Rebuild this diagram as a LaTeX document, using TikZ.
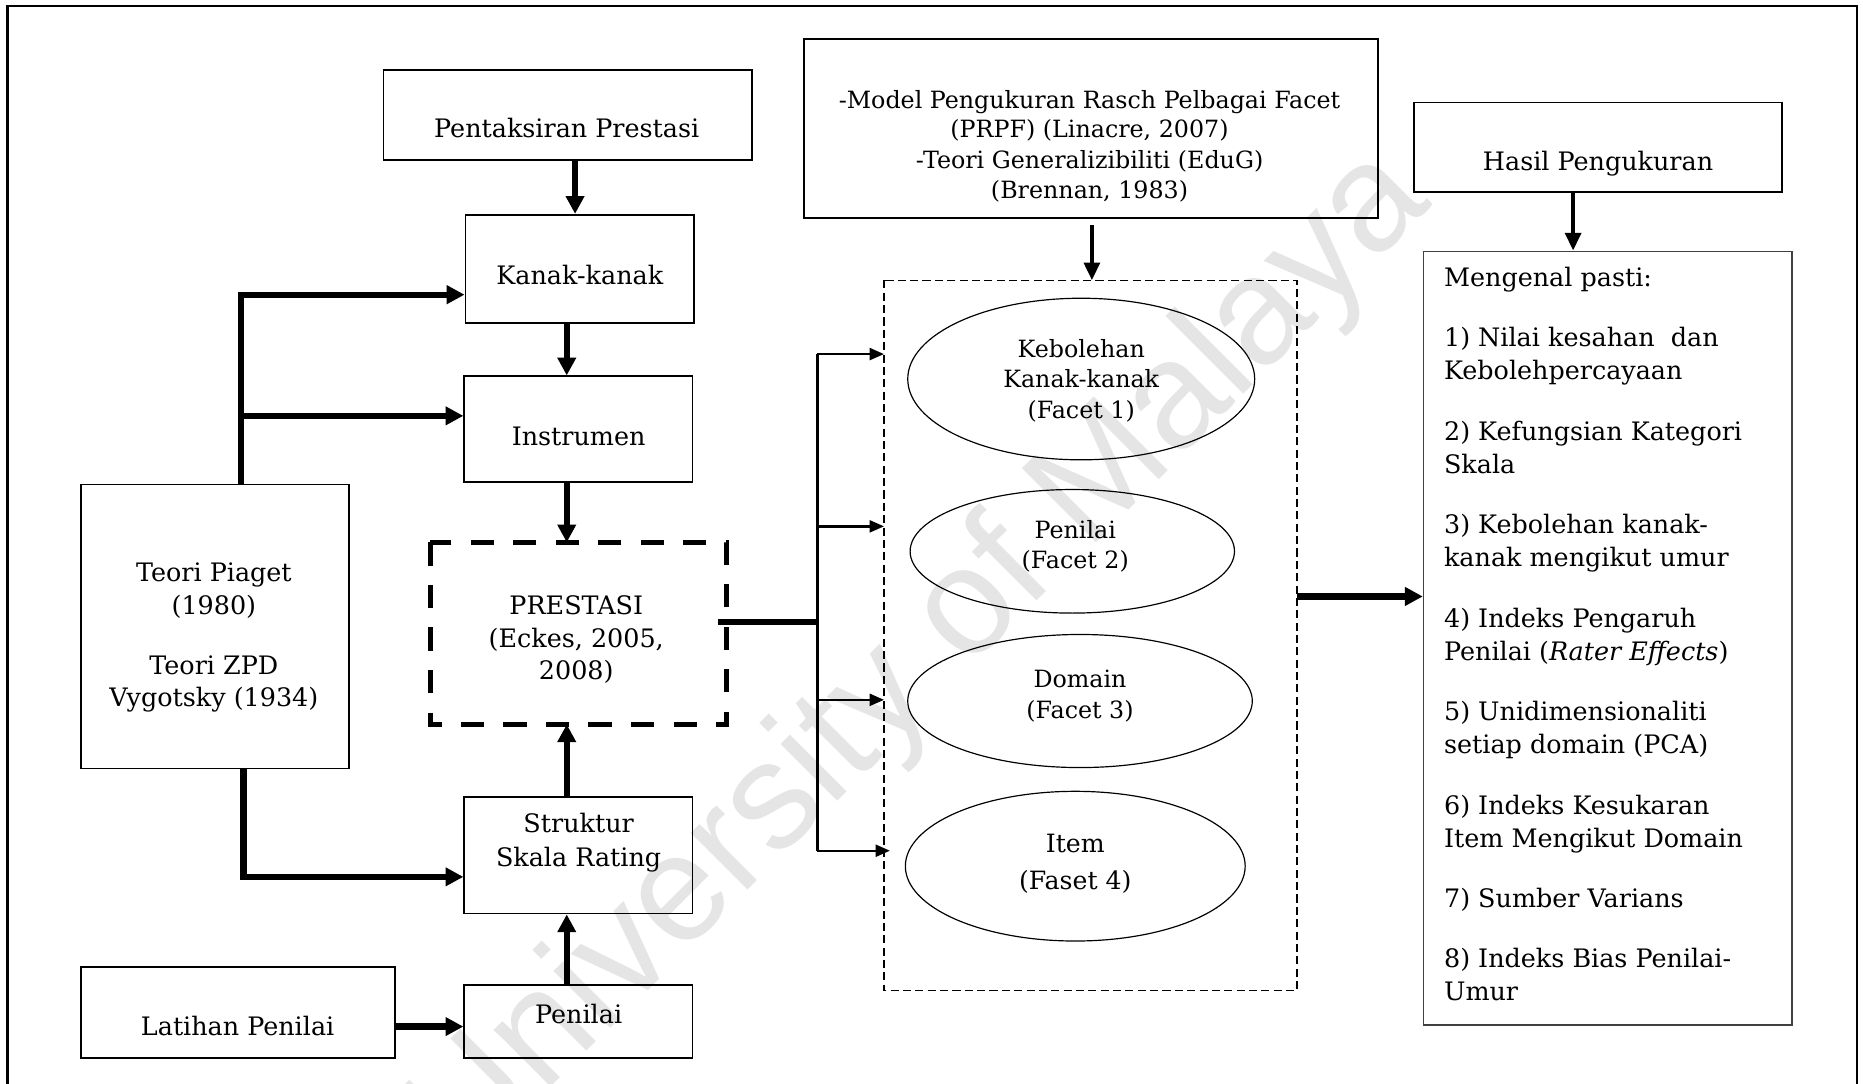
\documentclass[tikz,border=0pt]{standalone}
\usepackage{fontspec}
\setmainfont{DejaVu Serif}
\newfontfamily\wmfont{Liberation Sans}
\usetikzlibrary{arrows.meta,shapes.geometric,calc}
\newcommand\mainsz{\fontsize{10.7pt}{14pt}\selectfont}
\newcommand\smallsz{\fontsize{10pt}{12.5pt}\selectfont}
\newcommand\itemsz{\fontsize{10.6pt}{13pt}\selectfont}
\begin{document}
\begin{tikzpicture}[x=0.5pt,y=-0.5pt,
  boxst/.style={draw, line width=0.8pt, inner sep=0pt, anchor=north west},
  ellst/.style={draw, ellipse, line width=0.5pt, inner sep=0pt},
  tx/.style={inner sep=0pt, anchor=base, font=\mainsz},
  txs/.style={inner sep=0pt, anchor=base, font=\smallsz},
  txi/.style={inner sep=0pt, anchor=base, font=\itemsz},
  txl/.style={inner sep=0pt, anchor=base west, font=\mainsz},
  bigarr/.style={line width=2.6pt, -{Triangle[length=7.5pt,width=7.5pt]}},
  medarr/.style={line width=2pt, -{Triangle[length=7.5pt,width=6.5pt]}},
  smallarr/.style={line width=1pt, -{Triangle[length=6pt,width=5pt]}},
  bigline/.style={line width=2.2pt},
  midline/.style={line width=1.4pt}]
\useasboundingbox (0,0) rectangle (1568,912);
% watermark
\node[rotate=45, text=black!10, font=\wmfont\fontsize{64pt}{68pt}\selectfont, inner sep=0pt] (wm) at (776,556) {University of Malaya};
% frame
\draw[line width=1pt] (6.4,912) -- (6.4,5) -- (1563,5) -- (1563,912);
% boxes
\node[boxst, minimum width=155pt, minimum height=38pt] (pent) at (322,58) {};
\node[boxst, minimum width=96pt, minimum height=45.5pt] (kanak) at (391,180) {};
\node[boxst, minimum width=96pt, minimum height=44.5pt] (instr) at (390,316) {};
\node[boxst, draw=none, minimum width=124pt, minimum height=75.75pt] (prest) at (362,456.5) {};
\draw[line width=2.1pt, dash pattern=on 9.8pt off 8.1pt] (prest.north west) rectangle (prest.south east);
\node[boxst, minimum width=113pt, minimum height=119.5pt] (teori) at (67,407) {};
\node[boxst, minimum width=96pt, minimum height=49pt] (strukt) at (390,670) {};
\node[boxst, minimum width=96pt, minimum height=31pt] (penil) at (390,828) {};
\node[boxst, minimum width=132.5pt, minimum height=38.5pt] (latih) at (67,813) {};
\node[boxst, minimum width=241.5pt, minimum height=75.5pt] (prpf) at (676,32) {};
\node[boxst, draw=none, minimum width=173pt, minimum height=298pt] (facet) at (744,236) {};
\draw[line width=0.6pt, dash pattern=on 3.4pt off 1.8pt] (facet.north west) rectangle (facet.south east);
\node[boxst, minimum width=155pt, minimum height=37.75pt] (hasil) at (1189,85.5) {};
\node[boxst, line width=0.6pt, draw=black!75, minimum width=155pt, minimum height=325.5pt] (meng) at (1197.5,211) {};
% ellipses
\node[ellst, minimum width=146pt, minimum height=68pt] (e1) at (910,319) {};
\node[ellst, minimum width=136.5pt, minimum height=52pt] (e2) at (902.5,464) {};
\node[ellst, minimum width=145pt, minimum height=56pt] (e3) at (909,590) {};
\node[ellst, minimum width=143pt, minimum height=63pt] (e4) at (905,729) {};
% texts
\node[tx] (tpent) at (477,116) {Pentaksiran Prestasi};
\node[tx] (tkanak) at (488,239.6) {Kanak-kanak};
\node[tx] (tinstr) at (487,375) {Instrumen};
\node[tx] (tpr1) at (485,517) {PRESTASI};
\node[tx] (tpr2) at (485,544.6) {(Eckes, 2005,};
\node[tx] (tpr3) at (485,571.6) {2008)};
\node[tx] (tte1) at (180,489.7) {Teori Piaget};
\node[tx] (tte2) at (180,516.8) {(1980)};
\node[tx] (tte3) at (180,567.7) {Teori ZPD};
\node[tx] (tte4) at (180,594.9) {Vygotsky (1934)};
\node[tx] (tst1) at (487,700.8) {Struktur};
\node[tx] (tst2) at (487,729) {Skala Rating};
\node[tx] (tpen) at (487,861) {Penilai};
\node[tx] (tlat) at (200,871.5) {Latihan Penilai};
\node[txs] (tpf1) at (917,91.3) {-Model Pengukuran Rasch Pelbagai Facet};
\node[txs] (tpf2) at (917,116) {(PRPF) (Linacre, 2007)};
\node[txs] (tpf3) at (917,141.5) {-Teori Generalizibiliti (EduG)};
\node[txs] (tpf4) at (917,167) {(Brennan, 1983)};
\node[tx] (thas) at (1345,143.5) {Hasil Pengukuran};
\node[txs] (te11) at (910,301) {Kebolehan};
\node[txs] (te12) at (910,326.5) {Kanak-kanak};
\node[txs] (te13) at (910,352) {(Facet 1)};
\node[txs] (te21) at (905,453.6) {Penilai};
\node[txs] (te22) at (905,478.5) {(Facet 2)};
\node[txs] (te31) at (909,579) {Domain};
\node[txs] (te32) at (909,605) {(Facet 3)};
\node[txi] (te41) at (905,717.8) {Item};
\node[txi] (te42) at (905,748.5) {(Faset 4)};
\node[txl] (m0) at (1215,241.3) {Mengenal pasti:};
\node[txl] (m1) at (1215,291.2) {1) Nilai kesahan\ \ dan};
\node[txl] (m2) at (1215,319.5) {Kebolehpercayaan};
\node[txl] (m3) at (1215,370.4) {2) Kefungsian Kategori};
\node[txl] (m4) at (1215,398.5) {Skala};
\node[txl] (m5) at (1215,449) {3) Kebolehan kanak-};
\node[txl] (m6) at (1215,477) {kanak mengikut umur};
\node[txl] (m7) at (1215,528) {4) Indeks Pengaruh};
\node[txl] (m8) at (1215,556) {Penilai (\textit{Rater Effects})};
\node[txl] (m9) at (1215,606.5) {5) Unidimensionaliti};
\node[txl] (m10) at (1215,634.5) {setiap domain (PCA)};
\node[txl] (m11) at (1215,685.3) {6) Indeks Kesukaran};
\node[txl] (m12) at (1215,713.3) {Item Mengikut Domain};
\node[txl] (m13) at (1215,764) {7) Sumber Varians};
\node[txl] (m14) at (1215,814) {8) Indeks Bias Penilai-};
\node[txl] (m15) at (1215,842) {Umur};
% helper coordinates
\coordinate (xa) at (484,0);
\coordinate (xb) at (477,0);
\coordinate (xt) at (203,0);
\coordinate (xt2) at (205,0);
\coordinate (xv) at (688,0);
\coordinate (xp) at (919,0);
\coordinate (xh) at (1324,0);
\coordinate (y1) at (0,248);
\coordinate (y2) at (0,350);
\coordinate (y3) at (0,738);
\coordinate (y4) at (0,523.5);
\coordinate (ya) at (0,298);
\coordinate (yb) at (0,443);
\coordinate (yc) at (0,589);
\coordinate (yd) at (0,716);
\coordinate (ye) at (0,502);
\coordinate (yl) at (0,864);
% connectors
\draw[bigarr] (pent.south -| xa) -- (kanak.north -| xa);
\draw[bigarr] (kanak.south -| xb) -- (instr.north -| xb);
\draw[bigarr] (instr.south -| xb) -- (prest.north -| xb);
\draw[bigarr] (strukt.north -| xb) -- (prest.south -| xb);
\draw[bigarr] (penil.north -| xb) -- (strukt.south -| xb);
\draw[bigarr] (latih.east |- yl) -- (penil.west |- yl);
\draw[bigarr] (teori.north -| xt) |- (kanak.west |- y1);
\draw[bigarr] (xt |- y2) -- (instr.west |- y2);
\draw[bigarr] (teori.south -| xt2) |- (strukt.west |- y3);
\draw[bigline] ([xshift=-3.5pt]prest.east |- y4) -- (xv |- y4);
\draw[midline] (xv |- ya) -- (xv |- yd);
\draw[smallarr] (xv |- ya) -- (facet.west |- ya);
\draw[smallarr] (xv |- yb) -- (facet.west |- yb);
\draw[smallarr] (xv |- yc) -- (facet.west |- yc);
\draw[smallarr] (xv |- yd) -- ([xshift=2.5pt]facet.west |- yd);
\draw[medarr] ([yshift=-2.5pt]prpf.south -| xp) -- (facet.north -| xp);
\draw[medarr] (hasil.south -| xh) -- (meng.north -| xh);
\draw[bigarr] (facet.east |- ye) -- (meng.west |- ye);
\end{tikzpicture}
\end{document}
